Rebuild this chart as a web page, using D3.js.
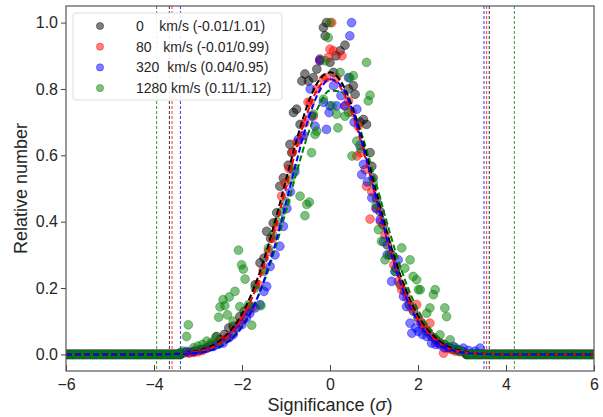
<!DOCTYPE html>
<html>
<head>
<meta charset="utf-8">
<script src="https://cdn.jsdelivr.net/npm/d3@7"></script>
<style>
body { margin: 0; background: #fff; }
text { font-family: "Liberation Sans", Arial, sans-serif; fill: #262626; }
</style>
</head>
<body>
<svg id="chart" width="603" height="417"></svg>
<script>
// series meta
var speeds = [0, 80, 320, 1280];
var fitMean = [-0.01, -0.01, 0.04, 0.11];
var fitSigma = [1.01, 0.99, 0.95, 1.12];
var colors = ['black', 'red', 'blue', 'green'];

var xTicks = [-6, -4, -2, 0, 2, 4, 6];
var yTicks = [0, 0.2, 0.4, 0.6, 0.8, 1.0];

// cut lines (left / right) per series
var cutLeft = [-3.65, -3.59, -3.40, -3.94];
var cutRight = [3.62, 3.56, 3.50, 4.19];

// bins where every series sits at zero
var zeroX = [-6.00, -5.95, -5.90, -5.85, -5.80, -5.75, -5.70, -5.65, -5.60, -5.55, -5.50, -5.45,
    -5.40, -5.35, -5.30, -5.25, -5.20, -5.15, -5.10, -5.05, -5.00, -4.95, -4.90, -4.85, -4.80,
    -4.75, -4.70, -4.65, -4.60, -4.55, -4.50, -4.45, -4.40, -4.35, -4.30, -4.25, -4.20, -4.15,
    -4.10, -4.05, -4.00, -3.95, -3.90, -3.85, -3.80, -3.75, -3.70, -3.65, -3.60, -3.55, -3.50,
    -3.45, -3.40,
    3.10, 3.15, 3.20, 3.25, 3.30, 3.35, 3.40, 3.45, 3.50, 3.55, 3.60, 3.65, 3.70, 3.75, 3.80,
    3.85, 3.90, 3.95, 4.00, 4.05, 4.10, 4.15, 4.20, 4.25, 4.30, 4.35, 4.40, 4.45, 4.50, 4.55,
    4.60, 4.65, 4.70, 4.75, 4.80, 4.85, 4.90, 4.95, 5.00, 5.05, 5.10, 5.15, 5.20, 5.25, 5.30,
    5.35, 5.40, 5.45, 5.50, 5.55, 5.60, 5.65, 5.70, 5.75, 5.80, 5.85, 5.90, 5.95, 6.00];

var pts0 = [[-3.3,0.005],[-3.2,0.006],[-3.1,0.008],[-3.0,0.012],[-2.9,0.015],[-2.8,0.02],[-2.7,0.03],
    [-2.58,0.054],[-2.5,0.045],[-2.4,0.06],[-2.3,0.08],[-2.2,0.085],[-2.05,0.114],[-1.95,0.13],
    [-1.82,0.144],[-1.7,0.21],[-1.59,0.276],[-1.5,0.29],[-1.44,0.371],[-1.35,0.35],[-1.29,0.396],
    [-1.21,0.427],[-1.14,0.507],[-1.06,0.532],[-0.95,0.57],[-0.91,0.633],[-0.87,0.608],[-0.83,0.729],
    [-0.76,0.739],[-0.68,0.693],[-0.64,0.824],[-0.57,0.845],[-0.49,0.824],[-0.38,0.834],[-0.3,0.86],
    [-0.23,0.89],[-0.15,0.985],[-0.11,0.96],[-0.08,1.0],[0.0,0.88],[0.08,0.85],[0.14,0.90],[0.23,0.915],
    [0.34,0.932],[0.42,0.80],[0.53,0.81],[0.57,0.784],[0.68,0.70],[0.76,0.708],[0.83,0.693],[0.91,0.608],
    [0.95,0.567],[0.98,0.532],[1.06,0.47],[1.14,0.43],[1.21,0.39],[1.3,0.33],[1.4,0.30],[1.5,0.26],
    [1.6,0.21],[1.7,0.19],[1.8,0.15],[1.9,0.13],[2.0,0.11],[2.1,0.09],[2.2,0.07],[2.3,0.055],[2.4,0.045],
    [2.5,0.035],[2.6,0.03],[2.7,0.02],[2.8,0.015],[2.9,0.012],[3.0,0.01]];

var pts1 = [[-3.2,0.004],[-3.1,0.006],[-3.0,0.008],[-2.9,0.012],[-2.8,0.019],[-2.7,0.025],[-2.58,0.034],
    [-2.45,0.04],[-2.35,0.05],[-2.27,0.054],[-2.15,0.08],[-2.05,0.095],[-1.97,0.104],[-1.85,0.13],
    [-1.74,0.144],[-1.63,0.21],[-1.52,0.255],[-1.4,0.31],[-1.3,0.35],[-1.21,0.386],[-1.1,0.477],
    [-1.02,0.517],[-0.93,0.56],[-0.85,0.61],[-0.75,0.64],[-0.64,0.658],[-0.57,0.698],[-0.5,0.76],
    [-0.45,0.759],[-0.38,0.718],[-0.3,0.8],[-0.23,0.885],[-0.15,0.83],[-0.08,0.834],[-0.04,0.895],
    [0.0,0.92],[0.04,1.0],[0.08,0.915],[0.15,0.834],[0.27,0.90],[0.34,0.749],[0.42,0.764],[0.5,0.73],
    [0.61,0.598],[0.64,0.688],[0.7,0.608],[0.8,0.557],[0.83,0.507],[0.91,0.408],[0.95,0.49],[1.05,0.44],
    [1.15,0.40],[1.25,0.36],[1.35,0.30],[1.45,0.27],[1.55,0.22],[1.63,0.195],[1.75,0.17],[1.85,0.14],
    [1.97,0.15],[2.05,0.1],[2.15,0.08],[2.27,0.094],[2.35,0.05],[2.45,0.035],[2.58,0.004],[2.65,0.02],
    [2.75,0.015],[2.85,0.01],[2.95,0.008]];

var pts2 = [[-3.4,0.005],[-3.26,0.009],[-3.1,0.01],[-2.95,0.014],[-2.8,0.02],[-2.65,0.024],[-2.55,0.03],
    [-2.43,0.034],[-2.3,0.05],[-2.2,0.06],[-2.12,0.079],[-2.0,0.09],[-1.9,0.11],[-1.82,0.124],[-1.7,0.14],
    [-1.59,0.15],[-1.5,0.19],[-1.44,0.205],[-1.36,0.265],[-1.25,0.30],[-1.14,0.326],[-1.06,0.386],
    [-0.98,0.44],[-0.9,0.49],[-0.8,0.55],[-0.72,0.648],[-0.6,0.66],[-0.45,0.80],[-0.42,0.718],
    [-0.34,0.688],[-0.23,0.885],[-0.15,0.76],[-0.08,0.678],[-0.02,0.729],[0.0,0.749],[0.08,0.81],
    [0.15,0.749],[0.25,0.78],[0.34,0.749],[0.42,0.834],[0.45,0.96],[0.49,1.0],[0.55,0.70],[0.61,0.739],
    [0.68,0.63],[0.72,0.542],[0.76,0.573],[0.85,0.52],[0.95,0.472],[1.05,0.44],[1.14,0.406],[1.22,0.34],
    [1.3,0.30],[1.4,0.22],[1.48,0.25],[1.55,0.285],[1.67,0.175],[1.74,0.144],[1.82,0.094],[1.86,0.064],
    [1.95,0.08],[2.01,0.069],[2.1,0.06],[2.2,0.054],[2.31,0.034],[2.4,0.03],[2.5,0.029],[2.6,0.02],
    [2.7,0.022],[2.8,0.024],[2.9,0.015],[3.03,0.019],[3.15,0.012],[3.3,0.01],[3.41,0.019]];

var pts3 = [[-3.35,0.01],[-3.26,0.054],[-3.22,0.089],[-3.1,0.02],[-3.0,0.025],[-2.9,0.03],[-2.8,0.04],
    [-2.7,0.035],[-2.6,0.05],[-2.53,0.112],[-2.5,0.143],[-2.43,0.165],[-2.39,0.147],[-2.33,0.119],
    [-2.29,0.173],[-2.2,0.10],[-2.16,0.19],[-2.08,0.314],[-2.05,0.144],[-2.01,0.27],[-1.97,0.257],
    [-1.93,0.227],[-1.85,0.15],[-1.78,0.088],[-1.7,0.2],[-1.57,0.147],[-1.5,0.25],[-1.4,0.32],[-1.3,0.36],
    [-1.2,0.40],[-1.1,0.43],[-1.0,0.46],[-0.91,0.527],[-0.8,0.56],[-0.68,0.477],[-0.57,0.418],
    [-0.53,0.452],[-0.47,0.459],[-0.42,0.608],[-0.38,0.724],[-0.34,0.663],[-0.3,0.673],[-0.15,0.769],
    [-0.11,0.885],[-0.04,0.955],[0.0,1.0],[0.05,0.749],[0.15,0.724],[0.18,0.683],[0.23,0.85],[0.34,0.718],
    [0.42,0.729],[0.45,0.834],[0.5,0.598],[0.53,0.84],[0.61,0.643],[0.7,0.62],[0.83,0.88],[0.87,0.764],
    [0.91,0.781],[0.98,0.517],[1.05,0.45],[1.10,0.376],[1.17,0.341],[1.25,0.285],[1.35,0.3],[1.48,0.25],
    [1.63,0.321],[1.70,0.26],[1.82,0.285],[1.89,0.235],[1.97,0.225],[2.01,0.195],[2.05,0.195],[2.2,0.124],
    [2.27,0.14],[2.35,0.18],[2.39,0.195],[2.5,0.059],[2.61,0.14],[2.65,0.114],[2.73,0.044],[2.85,0.02],
    [2.95,0.01]];

var curveX = [-6, -4, -3.5, -3, -2.5, -2, -1.75, -1.5, -1.25, -1, -0.75, -0.5, -0.25, 0,
    0.25, 0.5, 0.75, 1, 1.25, 1.5, 1.75, 2, 2.5, 3, 3.5, 4, 6];
var curve0 = [0, 0, 0.002, 0.011, 0.041, 0.122, 0.193, 0.286, 0.400, 0.526, 0.650, 0.756, 0.826, 0.850,
    0.822, 0.748, 0.640, 0.516, 0.390, 0.278, 0.186, 0.117, 0.039, 0.010, 0.002, 0, 0];
var curve1 = [0, 0, 0.002, 0.009, 0.035, 0.110, 0.177, 0.267, 0.379, 0.503, 0.627, 0.734, 0.806, 0.830,
    0.802, 0.727, 0.618, 0.493, 0.369, 0.259, 0.171, 0.106, 0.033, 0.008, 0.002, 0, 0];
var curve2 = [0, 0, 0.001, 0.005, 0.023, 0.083, 0.141, 0.223, 0.330, 0.456, 0.587, 0.706, 0.792, 0.829,
    0.810, 0.738, 0.628, 0.498, 0.369, 0.255, 0.164, 0.099, 0.029, 0.006, 0.001, 0, 0];
var curve3 = [0, 0, 0.001, 0.006, 0.027, 0.086, 0.142, 0.219, 0.318, 0.432, 0.553, 0.664, 0.750, 0.795,
    0.792, 0.742, 0.652, 0.538, 0.418, 0.305, 0.208, 0.134, 0.046, 0.012, 0.003, 0, 0];

var points = [pts0, pts1, pts2, pts3];
var curves = [curve0, curve1, curve2, curve3];

var margin = {left: 66, right: 9, top: 6, bottom: 46};
var width = 603, height = 417;

var svg = d3.select('#chart');

var x = d3.scaleLinear().domain([-6, 6]).range([margin.left, width - margin.right]);
var y = d3.scaleLinear().domain([-0.05, 1.05]).range([height - margin.bottom, margin.top]);

svg.append('defs').append('clipPath').attr('id', 'clip')
    .append('rect')
    .attr('x', margin.left).attr('y', margin.top)
    .attr('width', width - margin.left - margin.right)
    .attr('height', height - margin.top - margin.bottom);

var plot = svg.append('g').attr('clip-path', 'url(#clip)');

// vertical cut lines
colors.forEach(function (c, i) {
    [cutLeft[i], cutRight[i]].forEach(function (v) {
        plot.append('line')
            .attr('x1', x(v)).attr('x2', x(v))
            .attr('y1', margin.top).attr('y2', height - margin.bottom)
            .attr('stroke', c)
            .attr('stroke-width', 0.8)
            .attr('stroke-dasharray', '3,2');
    });
});

// scatter
colors.forEach(function (c, i) {
    var data = zeroX.map(function (v) { return [v, 0]; }).concat(points[i]);
    plot.append('g').selectAll('circle')
        .data(data)
        .enter().append('circle')
        .attr('cx', function (d) { return x(d[0]); })
        .attr('cy', function (d) { return y(d[1]); })
        .attr('r', 4.4)
        .attr('fill', c)
        .attr('fill-opacity', 0.5)
        .attr('stroke', c)
        .attr('stroke-opacity', 0.5)
        .attr('stroke-width', 0.8);
});

// fit curves
var line = d3.line()
    .x(function (d) { return x(d[0]); })
    .y(function (d) { return y(d[1]); })
    .curve(d3.curveMonotoneX);

[3, 0, 1, 2].forEach(function (i) {
    plot.append('path')
        .datum(curveX.map(function (v, k) { return [v, curves[i][k]]; }))
        .attr('d', line)
        .attr('fill', 'none')
        .attr('stroke', colors[i])
        .attr('stroke-width', 2)
        .attr('stroke-dasharray', '6,3');
});

// axes
var xAxis = svg.append('g')
    .attr('transform', 'translate(0,' + (height - margin.bottom) + ')')
    .call(d3.axisBottom(x).tickValues(xTicks).tickFormat(d3.format('d'))
        .tickSizeInner(-6).tickSizeOuter(0).tickPadding(8));
var yAxis = svg.append('g')
    .attr('transform', 'translate(' + margin.left + ',0)')
    .call(d3.axisLeft(y).tickValues(yTicks).tickFormat(d3.format('.1f'))
        .tickSizeInner(5).tickSizeOuter(0).tickPadding(3));

[xAxis, yAxis].forEach(function (a) {
    a.select('.domain').remove();
    a.selectAll('.tick line').attr('stroke', '#444').attr('stroke-width', 1);
    a.selectAll('.tick text').attr('font-size', 16).attr('fill', '#262626')
        .style('font-family', '"Liberation Sans", Arial, sans-serif');
});

svg.append('rect')
    .attr('x', margin.left).attr('y', margin.top)
    .attr('width', width - margin.left - margin.right)
    .attr('height', height - margin.top - margin.bottom)
    .attr('fill', 'none')
    .attr('stroke', '#555')
    .attr('stroke-width', 1.2);

// axis labels
svg.append('text')
    .attr('transform', 'translate(27,' + (margin.top + height - margin.bottom) / 2 + ') rotate(-90)')
    .attr('text-anchor', 'middle')
    .attr('font-size', 18)
    .text('Relative number');

var xl = svg.append('text')
    .attr('x', (margin.left + width - margin.right) / 2)
    .attr('y', 411)
    .attr('text-anchor', 'middle')
    .attr('font-size', 18);
xl.append('tspan').text('Significance (');
xl.append('tspan').attr('font-style', 'italic').text('σ');
xl.append('tspan').text(')');

// legend
var legend = svg.append('g');
legend.append('rect')
    .attr('x', 73).attr('y', 13)
    .attr('width', 209).attr('height', 87)
    .attr('rx', 3)
    .attr('fill', '#fff').attr('fill-opacity', 0.9)
    .attr('stroke', '#ddd').attr('stroke-width', 1);

var pad = ['    ', '   ', '  ', ' '];
colors.forEach(function (c, i) {
    var ry = 26 + i * 20.7;
    legend.append('circle')
        .attr('cx', 100).attr('cy', ry).attr('r', 3.6)
        .attr('fill', c).attr('fill-opacity', 0.5)
        .attr('stroke', c).attr('stroke-opacity', 0.5).attr('stroke-width', 0.8);
    legend.append('text')
        .attr('x', 136).attr('y', ry + 5)
        .attr('font-size', 14)
        .attr('xml:space', 'preserve')
        .style('white-space', 'pre')
        .text(speeds[i] + pad[i] + 'km/s (' + fitMean[i].toFixed(2) + '/' + fitSigma[i].toFixed(2) + ')');
});
</script>
</body>
</html>
